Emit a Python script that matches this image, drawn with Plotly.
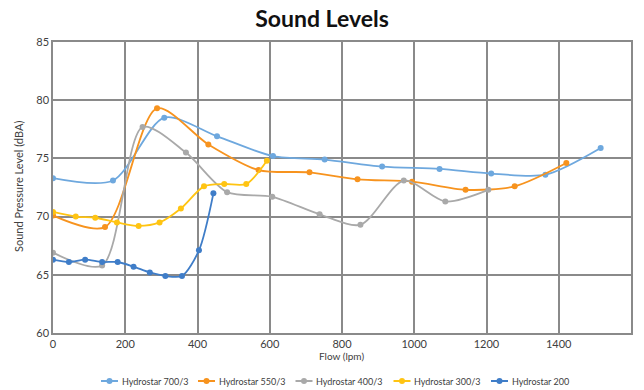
import plotly.graph_objects as go

# Hydrostar 700/3
h700_x = [0, 166, 308, 454, 609, 752, 911, 1070, 1213, 1363, 1516]
h700_y = [73.3, 73.1, 78.5, 76.9, 75.2, 74.9, 74.3, 74.1, 73.7, 73.6, 75.9]
# Hydrostar 550/3
h550_x = [0, 144, 288, 430, 569, 710, 843, 994, 1142, 1278, 1421]
h550_y = [70.1, 69.1, 79.3, 76.2, 74.0, 73.8, 73.2, 73.0, 72.3, 72.6, 74.6]
# Hydrostar 400/3
h400_x = [0, 136, 248, 368, 482, 607, 738, 851, 971, 1086, 1205]
h400_y = [66.9, 65.8, 77.7, 75.5, 72.1, 71.7, 70.2, 69.3, 73.1, 71.3, 72.3]
# Hydrostar 300/3
h300_x = [0, 63, 117, 177, 237, 295, 354, 418, 474, 535, 592]
h300_y = [70.4, 70.0, 69.9, 69.5, 69.2, 69.5, 70.7, 72.6, 72.8, 72.8, 74.8]
# Hydrostar 200
h200_x = [0, 44, 89, 136, 179, 223, 268, 311, 357, 404, 444]
h200_y = [66.3, 66.1, 66.3, 66.1, 66.1, 65.7, 65.2, 64.9, 64.9, 67.1, 72.0]

series_names = ["Hydrostar 700/3", "Hydrostar 550/3", "Hydrostar 400/3", "Hydrostar 300/3", "Hydrostar 200"]
series_x = [h700_x, h550_x, h400_x, h300_x, h200_x]
series_y = [h700_y, h550_y, h400_y, h300_y, h200_y]
series_colors = ["#6ea8de", "#f7931e", "#a9a9a9", "#ffc412", "#3f7dc8"]

x_ticks = [0, 200, 400, 600, 800, 1000, 1200, 1400, 1600]
y_ticks = [60, 65, 70, 75, 80, 85]

W, H = 644, 390
L, R, T, B = 53, 13, 42, 57
PW, PH = W - L - R, H - T - B

def px(xp):
    return (xp - L) / PW

def py(yp):
    return (H - B - yp) / PH

fig = go.Figure()
for name, xs, ys, col in zip(series_names, series_x, series_y, series_colors):
    fig.add_trace(go.Scatter(
        x=xs, y=ys, name=name, mode="lines+markers",
        line=dict(color=col, width=1.8, shape="spline", smoothing=0.8),
        marker=dict(color=col, size=6),
        showlegend=False,
    ))

font_family = "Lato, 'Open Sans', sans-serif"
txt = "#404040"

# custom legend (compact, like the original)
leg_line_starts = [101, 198, 295.5, 393.5, 491]
leg_y = 381
shapes = []
annotations = []
for i, (name, col) in enumerate(zip(series_names, series_colors)):
    x0 = leg_line_starts[i]
    shapes.append(dict(type="line", xref="paper", yref="paper",
                       x0=px(x0), x1=px(x0 + 17), y0=py(leg_y), y1=py(leg_y),
                       line=dict(color=col, width=2)))
    shapes.append(dict(type="circle", xref="paper", yref="paper",
                       xsizemode="pixel", ysizemode="pixel",
                       xanchor=px(x0 + 8.5), yanchor=py(leg_y),
                       x0=-3, x1=3, y0=-3, y1=3,
                       fillcolor=col, line=dict(color=col, width=0)))
    annotations.append(dict(text=name, xref="paper", yref="paper",
                            x=px(x0 + 18.5), y=py(leg_y), xanchor="left", yanchor="middle",
                            showarrow=False, font=dict(size=9, color=txt, family=font_family)))

annotations.append(dict(text="Flow (lpm)", xref="paper", yref="paper",
                        x=px(341), y=py(356), xanchor="center", yanchor="middle",
                        showarrow=False, font=dict(size=10, color=txt, family=font_family)))
annotations.append(dict(text="Sound Pressure Level (dBA)", xref="paper", yref="paper",
                        x=px(18), y=py(187), xanchor="center", yanchor="middle", textangle=-90,
                        showarrow=False, font=dict(size=11, color=txt, family=font_family)))

fig.update_layout(
    width=W, height=H,
    margin=dict(l=L, r=R, t=T, b=B),
    paper_bgcolor="white", plot_bgcolor="white",
    title=dict(text="<b>Sound Levels</b>", x=0.5, xanchor="center", y=1 - 18.5 / H, yanchor="middle",
               font=dict(family=font_family, size=23, color="#111")),
    font=dict(family=font_family, color=txt),
    showlegend=False,
    shapes=shapes,
    annotations=annotations,
)
fig.update_xaxes(
    range=[0, 1600], tickvals=x_ticks, showgrid=True, gridcolor="#8a8a8a", gridwidth=1.5,
    showline=True, linecolor="#8a8a8a", linewidth=1.5, mirror=True, zeroline=False,
    tickfont=dict(size=11, color=txt), ticks="", automargin=False,
)
fig.update_yaxes(
    range=[60, 85], tickvals=y_ticks, showgrid=True, gridcolor="#8a8a8a", gridwidth=1.5,
    showline=True, linecolor="#8a8a8a", linewidth=1.5, mirror=True, zeroline=False,
    tickfont=dict(size=11, color=txt), ticks="", automargin=False,
)
fig.write_html("out.html", config={"displayModeBar": False},
               post_script="document.body.style.margin='0';document.body.style.padding='0';")
